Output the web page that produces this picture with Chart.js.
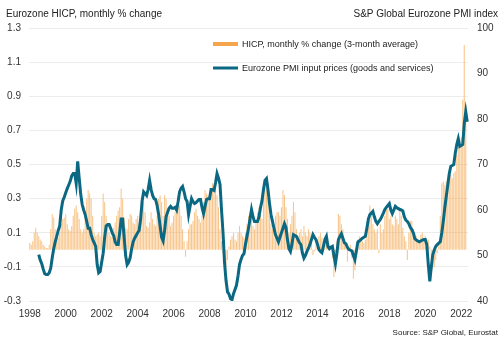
<!DOCTYPE html>
<html>
<head>
<meta charset="utf-8">
<script src="https://cdn.jsdelivr.net/npm/chart.js@4.4.1/dist/chart.umd.min.js"></script>
<style>
  html, body { margin: 0; padding: 0; background: #fff; }
  #wrap { position: relative; width: 501px; height: 344px; }
</style>
</head>
<body>
<div id="wrap"><canvas id="chart"></canvas></div>
<script>
// months from Jan 1998 to May 2022
const startYear = 1998;
const monthCount = 293;

const yearTicks = ['1998', '2000', '2002', '2004', '2006', '2008', '2010', '2012',
  '2014', '2016', '2018', '2020', '2022'];
const leftTicks = [-0.3, -0.1, 0.1, 0.3, 0.5, 0.7, 0.9, 1.1, 1.3];
const rightTicks = [40, 50, 60, 70, 80, 90, 100];

// HICP, monthly % change (3-month average), one row per year
const hicp = [
  0.04, 0.03, 0.05, 0.10, 0.13, 0.10, 0.08, 0.06, 0.05, 0.03, 0.02, 0.01,
  0.01, 0.03, 0.12, 0.21, 0.19, 0.12, 0.08, 0.07, 0.10, 0.15, 0.18, 0.19,
  0.21, 0.15, 0.12, 0.11, 0.14, 0.20, 0.24, 0.26, 0.22, 0.18, 0.12, 0.10,
  0.12, 0.18, 0.30, 0.35, 0.33, 0.30, 0.20, 0.10, 0.08, 0.09, 0.10, 0.08,
  0.20, 0.33, 0.28, 0.20, 0.15, 0.10, 0.08, 0.10, 0.13, 0.16, 0.20, 0.23,
  0.25, 0.36, 0.30, 0.19, 0.13, 0.12, 0.18, 0.21, 0.20, 0.16, 0.15, 0.18,
  0.20, 0.15, 0.18, 0.26, 0.28, 0.22, 0.14, 0.13, 0.16, 0.22, 0.18, 0.15,
  0.14, 0.20, 0.30, 0.32, 0.28, 0.20, 0.32, 0.30, 0.24, 0.20, 0.14, 0.16,
  0.20, 0.22, 0.25, 0.27, 0.26, 0.20, 0.12, 0.05, -0.04, 0.05, 0.12, 0.15,
  0.15, 0.17, 0.22, 0.24, 0.20, 0.18, 0.16, 0.20, 0.28, 0.35, 0.33, 0.32,
  0.30, 0.35, 0.39, 0.38, 0.36, 0.32, 0.25, 0.12, 0.05, -0.02, -0.08, -0.10,
  -0.06, 0.02, 0.06, 0.08, 0.10, 0.06, 0.05, 0.10, 0.14, 0.10, 0.08, 0.07,
  0.10, 0.15, 0.20, 0.22, 0.18, 0.14, 0.12, 0.17, 0.22, 0.25, 0.20, 0.18,
  0.30, 0.39, 0.36, 0.30, 0.20, 0.15, 0.12, 0.15, 0.20, 0.22, 0.22, 0.20,
  0.25, 0.35, 0.32, 0.25, 0.18, 0.10, 0.15, 0.20, 0.28, 0.22, 0.12, 0.08,
  0.10, 0.12, 0.08, 0.14, 0.10, 0.08, 0.12, 0.10, 0.06, -0.03, -0.01, 0.04,
  0.06, 0.08, 0.10, 0.07, 0.04, 0.05, 0.08, 0.06, 0.03, 0.02, -0.05, -0.16,
  -0.10, 0.05, 0.21, 0.20, 0.15, 0.12, 0.06, 0.02, -0.07, 0.02, 0.03, -0.05,
  -0.17, -0.12, 0.04, 0.06, 0.08, 0.07, 0.05, 0.04, 0.06, 0.10, 0.20, 0.26,
  0.22, 0.15, 0.12, 0.10, 0.12, -0.02, 0.15, 0.10, 0.12, 0.20, 0.26, 0.24,
  0.18, 0.20, 0.15, 0.14, 0.20, 0.18, 0.15, 0.25, 0.20, 0.13, 0.08, 0.05,
  -0.06, 0.10, 0.17, 0.17, 0.12, 0.10, 0.08, 0.06, 0.05, 0.09, 0.10, 0.07,
  0.08, 0.04, 0.06, 0.02, -0.05, -0.11, -0.10, -0.06, -0.02, 0.05, 0.20, 0.39,
  0.40, 0.38, 0.40, 0.42, 0.45, 0.44, 0.42, 0.45, 0.46, 0.56, 0.60, 0.62,
  0.66, 0.88, 1.20, 0.85
];

// Eurozone PMI input prices (goods and services), starts Jul 1998
const pmi = [
  null, null, null, null, null, null, 50.2, 49, 48.2, 47, 46, 45.8,
  45.8, 46.2, 47.2, 49.5, 51.5, 53, 54.2, 55.5, 56.5, 60, 62, 62.8,
  63.8, 64.7, 65.5, 66.3, 67.5, 68, 68, 65.8, 70.7, 67, 63.5, 61.2,
  60, 59, 57.5, 56, 56, 54.6, 53.5, 52.8, 52, 48, 46.2, 46.5,
  48.5, 50.5, 54, 56.5, 56.8, 56.8, 56, 55, 54.4, 53, 52.4, 52.4,
  55, 58, 58, 54, 50, 48, 48.5, 49.5, 51.5, 53, 53.8, 54.4,
  55, 55.5, 58, 62, 64, 63.6, 63.2, 64.5, 66.5, 64.5, 63.2, 62.5,
  62.3, 61, 59, 56.5, 54, 53.2, 55.5, 58.5, 59.5, 60.4, 60.8, 60.4,
  60.4, 60.6, 60, 61.8, 64, 64.8, 65.2, 64, 62.5, 61.9, 59, 60.8,
  62.5, 61.8, 61.4, 61.6, 62, 62.3, 62.3, 60.5, 59.2, 60.8, 62.3, 62.5,
  62.5, 64.5, 64.5, 64.3, 66, 68, 67, 65.6, 60, 55, 48.5, 44.5,
  42, 41.5, 40.5, 40.3, 41.6, 42.5, 43.5, 45.5, 48, 49.1, 50, 50.4,
  52.5, 54.2, 56, 58, 60.1, 58.5, 57.5, 57.5, 57.5, 58.5, 60.5, 62,
  64.5, 66.5, 66.9, 64.5, 61.5, 59, 57.5, 56, 54.6, 53.8, 53, 54,
  55, 56, 57, 56.2, 53.5, 51.5, 50.9, 52.5, 54.6, 54.4, 54.2, 53.5,
  52.8, 52.4, 50.5, 49.4, 50, 50.9, 51.6, 52.4, 53.5, 54.6, 54, 53.5,
  52.5, 51.3, 50.9, 50.6, 52, 53.5, 54.2, 52, 51.5, 51.8, 52, 50,
  48.2, 50.5, 53.5, 54.2, 54.8, 53.8, 52.8, 52.6, 51.8, 51.3, 51.2, 51,
  50, 49.1, 51, 53, 53.2, 53.5, 53.8, 54, 54.2, 56, 58, 59,
  59.3, 59.7, 58.5, 57.5, 57, 57.5, 57.9, 58.6, 59.3, 60.1, 60.6, 61,
  61.4, 60, 59.2, 60, 60.8, 60.5, 60.3, 60.1, 60, 59.8, 58.5, 57.8,
  57.5, 57, 56.2, 55.7, 55, 53.7, 53.4, 53.2, 53, 53.2, 53.4, 53.5,
  53.5, 52.4, 48, 44.3, 47.5, 50.2, 51.2, 52, 52.4, 52.7, 53, 55,
  57.5, 60.5, 63, 65.5, 68, 69.6, 69.8, 70, 72.5, 74.4, 75.7, 74,
  74.2, 74.4, 79, 81.6, 79.4
];

const labels = [];
for (let i = 0; i < monthCount; i++) {
  const y = startYear + Math.floor(i / 12);
  const m = (i % 12) + 1;
  labels.push(y + '-' + (m < 10 ? '0' + m : m));
}

const orange = '#f5a64c';
const teal = '#0b6882';
const font = '"Liberation Sans", Arial, sans-serif';

// titles, legend and source drawn on the canvas
const extraText = {
  id: 'extraText',
  afterDraw(chart) {
    const ctx = chart.ctx;
    ctx.save();
    ctx.fillStyle = '#222';
    ctx.textBaseline = 'middle';
    ctx.font = '10px ' + font;
    ctx.textAlign = 'left';
    ctx.fillText('Eurozone HICP, monthly % change', 6, 14);
    ctx.textAlign = 'right';
    ctx.fillText('S&P Global Eurozone PMI index', 498, 14);
    ctx.font = '8px ' + font;
    ctx.fillText('Source: S&P Global, Eurostat', 498, 333);

    // legend
    ctx.font = '9px ' + font;
    ctx.textAlign = 'left';
    ctx.lineWidth = 4;
    ctx.strokeStyle = orange;
    ctx.beginPath(); ctx.moveTo(213, 44); ctx.lineTo(238, 44); ctx.stroke();
    ctx.fillText('HICP, monthly % change (3-month average)', 242, 44.5);
    ctx.lineWidth = 3;
    ctx.strokeStyle = teal;
    ctx.beginPath(); ctx.moveTo(213, 68); ctx.lineTo(238, 68); ctx.stroke();
    ctx.fillText('Eurozone PMI input prices (goods and services)', 242, 68.5);
    ctx.restore();
  }
};

new Chart(document.getElementById('chart'), {
  type: 'bar',
  data: {
    labels: labels,
    datasets: [
      {
        type: 'line',
        label: 'Eurozone PMI input prices (goods and services)',
        data: pmi,
        yAxisID: 'y1',
        borderColor: teal,
        borderWidth: 3,
        pointRadius: 0,
        tension: 0,
        spanGaps: false,
        order: 0
      },
      {
        label: 'HICP, monthly % change (3-month average)',
        data: hicp,
        yAxisID: 'y',
        backgroundColor: 'rgba(245, 166, 76, 0.65)',
        barPercentage: 0.7,
        categoryPercentage: 1,
        order: 1
      }
    ]
  },
  options: {
    responsive: true,
    maintainAspectRatio: false,
    animation: false,
    layout: { padding: { top: 28, left: 0, right: 0, bottom: 0 } },
    plugins: {
      legend: { display: false },
      tooltip: { enabled: false }
    },
    scales: {
      x: {
        grid: { display: false, drawTicks: false },
        border: { display: false },
        ticks: {
          autoSkip: false,
          maxRotation: 0,
          minRotation: 0,
          padding: 7,
          color: '#333',
          font: { family: font, size: 10 },
          callback: function (value, index) {
            const lab = labels[index];
            const yr = lab.slice(0, 4);
            return lab.endsWith('-01') && yearTicks.includes(yr) ? yr : '';
          }
        },
        afterFit: function (scale) { scale.height = 43; }
      },
      y: {
        position: 'left',
        min: -0.3,
        max: 1.3,
        afterBuildTicks: function (scale) {
          scale.ticks = leftTicks.map(v => ({ value: v }));
        },
        grid: { color: '#ececec', drawTicks: false },
        border: { display: false },
        ticks: {
          padding: 8,
          color: '#333',
          font: { family: font, size: 10 },
          callback: v => v.toFixed(1)
        },
        afterFit: function (scale) { scale.width = 29; }
      },
      y1: {
        position: 'right',
        min: 40,
        max: 100,
        afterBuildTicks: function (scale) {
          scale.ticks = rightTicks.map(v => ({ value: v }));
        },
        grid: { display: false, drawTicks: false },
        border: { display: false },
        ticks: {
          padding: 9,
          color: '#333',
          font: { family: font, size: 10 }
        },
        afterFit: function (scale) { scale.width = 33; }
      }
    }
  },
  plugins: [extraText]
});
</script>
</body>
</html>
